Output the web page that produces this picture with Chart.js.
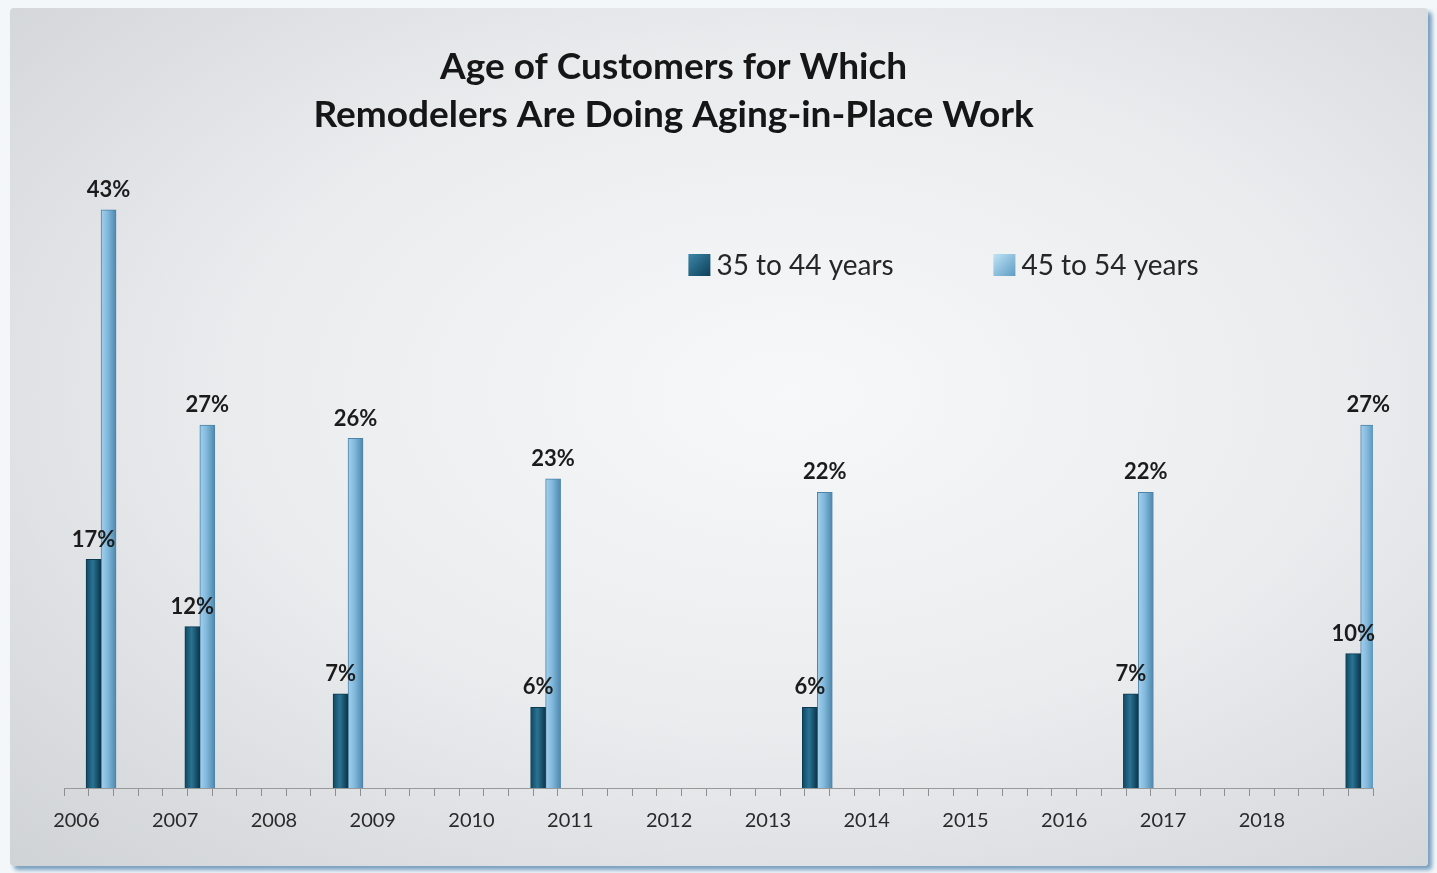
<!DOCTYPE html>
<html>
<head>
<meta charset="utf-8">
<script src="https://cdn.jsdelivr.net/npm/chart.js@4/dist/chart.umd.min.js"></script>
<style>
  html, body { margin: 0; padding: 0; background: #f3f7fa; }
  #frame {
    position: absolute; left: 10px; top: 8px; width: 1418px; height: 858px;
    border-radius: 4px;
    background: radial-gradient(ellipse at 55% 45%, #f7f8f9 0%, #eaecee 50%, #d0d3d6 100%);
    box-shadow: 4px 4px 4px rgba(80, 130, 170, 0.75);
  }
  canvas { display: block; }
</style>
</head>
<body>
<div id="frame"><canvas id="chart" width="1418" height="858"></canvas></div>
<script>
// x axis runs in quarters from 2006 Q1 to 2019 Q1
const years = ['2006', '2007', '2008', '2009', '2010', '2011', '2012', '2013', '2014', '2015', '2016', '2017', '2018', '2019'];
const quarters = ['Q1', 'Q2', 'Q3', 'Q4'];
const tickLabels = ['2006', '2007', '2008', '2009', '2010', '2011', '2012', '2013', '2014', '2015', '2016', '2017', '2018'];

// survey dates and results
const surveyPoints = ['2006 Q2', '2007 Q2', '2008 Q4', '2010 Q4', '2013 Q3', '2016 Q4', '2019 Q1'];
const age35to44 = [17, 12, 7, 6, 6, 7, 10];
const age45to54 = [43, 27, 26, 23, 22, 22, 27];

const titleLines = ['Age of Customers for Which', 'Remodelers Are Doing Aging-in-Place Work'];

const categories = [];
years.forEach(y => quarters.forEach(q => categories.push(`${y} ${q}`)));
categories.length = categories.indexOf('2019 Q1') + 1;

const toPoints = (vals) => vals.map((v, i) => ({ x: surveyPoints[i], y: v }));

// horizontal shading across each bar, once positions are known
function barShade(solid, left, mid, right) {
  return (ctx) => {
    const el = ctx.chart.getDatasetMeta(ctx.datasetIndex).data[ctx.dataIndex];
    if (!el || !isFinite(el.x) || !el.width) return solid;
    const g = ctx.chart.ctx.createLinearGradient(el.x - el.width / 2, 0, el.x + el.width / 2, 0);
    g.addColorStop(0, left);
    g.addColorStop(0.45, mid);
    g.addColorStop(1, right);
    return g;
  };
}

// title sits a bit left of centre in the original, so draw it ourselves
const offsetTitle = {
  id: 'offsetTitle',
  beforeDraw(chart) {
    const ctx = chart.ctx;
    ctx.save();
    ctx.font = 'bold 37px Lato';
    ctx.fillStyle = '#161616';
    ctx.textAlign = 'center';
    ctx.textBaseline = 'middle';
    titleLines.forEach((t, i) => ctx.fillText(t, chart.width * 0.468, 59 + i * 48));
    ctx.restore();
  }
};

const valueLabels = {
  id: 'valueLabels',
  afterDatasetsDraw(chart) {
    const ctx = chart.ctx;
    ctx.save();
    ctx.font = 'bold 22px Lato';
    ctx.fillStyle = '#1b1b1b';
    ctx.textAlign = 'center';
    ctx.textBaseline = 'bottom';
    chart.data.datasets.forEach((ds, di) => {
      chart.getDatasetMeta(di).data.forEach((bar, i) => {
        ctx.fillText(ds.data[i].y + '%', bar.x, bar.y - 9);
      });
    });
    ctx.restore();
  }
};

const boxLegend = {
  id: 'boxLegend',
  afterDraw(chart) {
    const ctx = chart.ctx;
    const area = chart.chartArea;
    let x = area.left + (area.right - area.left) * 0.477;
    const y = area.top + 82;
    ctx.save();
    ctx.font = '28px Lato';
    ctx.textBaseline = 'middle';
    chart.data.datasets.forEach(ds => {
      const g = ctx.createLinearGradient(x, y - 11, x + 22, y + 11);
      g.addColorStop(0, ds.legendLight);
      g.addColorStop(1, ds.legendDark);
      ctx.fillStyle = g;
      ctx.fillRect(x, y - 11, 22, 22);
      ctx.fillStyle = '#262626';
      ctx.fillText(ds.label, x + 28, y + 1);
      x += 305;
    });
    ctx.restore();
  }
};

const chart = new Chart(document.getElementById('chart'), {
  type: 'bar',
  data: {
    labels: categories,
    datasets: [
      {
        label: '35 to 44 years',
        data: toPoints(age35to44),
        backgroundColor: barShade('#1d5f7c', '#0f4760', '#2a7393', '#0b3448'),
        borderColor: '#0c3a50',
        borderWidth: 1,
        legendLight: '#3c87aa',
        legendDark: '#0d3f57'
      },
      {
        label: '45 to 54 years',
        data: toPoints(age45to54),
        backgroundColor: barShade('#7fb6da', '#a4d0ec', '#80b8dc', '#4f86ab'),
        borderColor: '#4d83a8',
        borderWidth: 1,
        legendLight: '#c0e4f6',
        legendDark: '#5e9cc4'
      }
    ]
  },
  options: {
    responsive: false,
    animation: false,
    layout: { padding: { left: 54, right: 55, top: 175, bottom: 20 } },
    scales: {
      x: {
        offset: true,
        grid: { display: true, drawOnChartArea: false, drawTicks: true, tickLength: 8, color: '#8e8e8e', offset: true },
        border: { display: true, color: '#999' },
        ticks: {
          autoSkip: false,
          maxRotation: 0,
          padding: 13,
          color: '#2a2a2a',
          font: { family: 'Lato', size: 20 },
          callback(value) {
            const lab = this.getLabelForValue(value);
            const yr = lab.slice(0, 4);
            return lab.endsWith('Q1') && tickLabels.includes(yr) ? yr : '';
          }
        }
      },
      y: {
        display: false,
        min: 0,
        max: 45
      }
    },
    datasets: {
      bar: { barThickness: 15, grouped: true }
    },
    plugins: {
      legend: { display: false },
      tooltip: { enabled: false },
      title: { display: false }
    }
  },
  plugins: [offsetTitle, valueLabels, boxLegend]
});
chart.update('none');
</script>
</body>
</html>
